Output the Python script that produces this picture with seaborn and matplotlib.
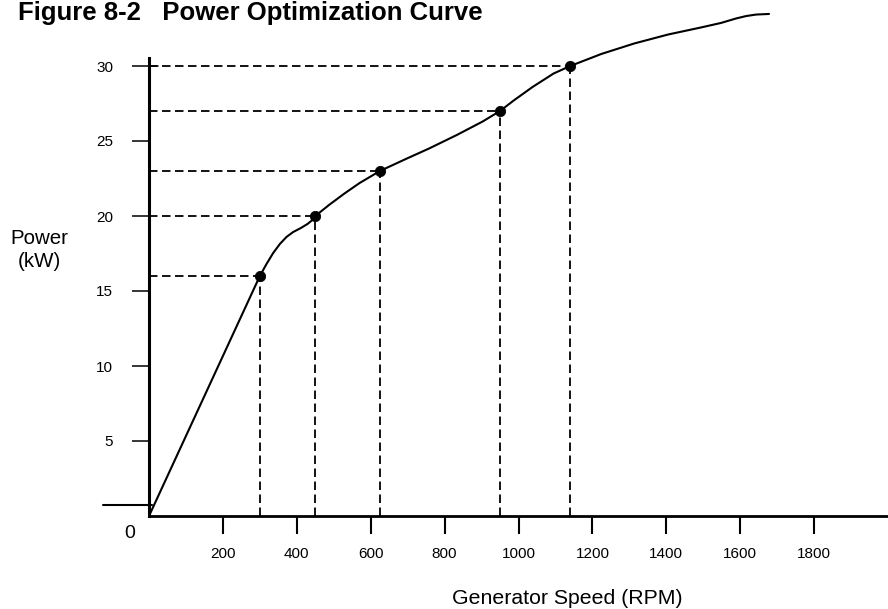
import matplotlib
matplotlib.use("Agg")
import matplotlib.pyplot as plt
import seaborn as sns
import pandas as pd

# Operating points marked on the curve
point_speed = [300, 450, 625, 950, 1140]      # RPM
point_power = [16, 20, 23, 27, 30]            # kW

# Power curve traced along generator speed
curve_speed = [0, 300, 318, 336, 354, 372, 390, 411, 429, 442, 450,
               488, 529, 570, 625, 695, 758, 833, 903, 950, 987, 1038,
               1095, 1140, 1224, 1313, 1405, 1494, 1548, 1589, 1616,
               1643, 1678]
curve_power = [0, 16, 16.8, 17.53, 18.13, 18.6, 18.93, 19.2, 19.47,
               19.73, 20, 20.75, 21.5, 22.2, 23, 23.8, 24.5, 25.4, 26.3,
               27, 27.7, 28.6, 29.5, 30, 30.8, 31.5, 32.1, 32.57, 32.87,
               33.17, 33.33, 33.43, 33.47]

x_ticks = [200, 400, 600, 800, 1000, 1200, 1400, 1600, 1800]
y_ticks = [5, 10, 15, 20, 25, 30]

title = "Figure 8-2   Power Optimization Curve"
x_label = "Generator Speed (RPM)"
y_label = "Power\n(kW)"

sns.set_theme(style="white")
plt.rcParams["font.family"] = ["Liberation Sans", "DejaVu Sans"]

W, H = 888, 609
fig = plt.figure(figsize=(W / 100, H / 100), dpi=100)
fig.patch.set_facecolor("white")
ax = fig.add_axes([149 / W, 1 - 516 / H, 739 / W, 516 / H])
ax.set_facecolor("white")

curve = pd.DataFrame({"speed": curve_speed, "power": curve_power})
points = pd.DataFrame({"speed": point_speed, "power": point_power})

# guide lines from each operating point to both axes
dash = (0, (4.7, 2.5))
ax.vlines(points["speed"], 0, points["power"], colors="black",
          linewidth=1.3, linestyles=dash, zorder=2)
ax.hlines(points["power"], 0, points["speed"], colors="black",
          linewidth=1.3, linestyles=dash, zorder=2)

sns.lineplot(data=curve, x="speed", y="power", color="black",
             linewidth=1.5, estimator=None, ax=ax, zorder=3)
sns.scatterplot(data=points, x="speed", y="power", color="black",
                edgecolor="black", s=55, ax=ax, zorder=4, legend=False)

ax.set_xlim(0, 2000)
ax.set_ylim(0, 516 / 15)

for side in ("top", "right"):
    ax.spines[side].set_visible(False)
ax.spines["left"].set_linewidth(2.2)
ax.spines["bottom"].set_linewidth(2.0)
ax.spines["left"].set_color("black")
ax.spines["bottom"].set_color("black")
ax.spines["left"].set_bounds(0, (516 - 58) / 15)

ax.set_xticks(x_ticks)
ax.set_xticklabels([str(v) for v in x_ticks])
ax.set_yticks(y_ticks)
ax.set_yticklabels([str(v) for v in y_ticks])
ax.tick_params(axis="x", direction="out", length=13, width=1.5,
               pad=9, labelsize=11, colors="black")
ax.tick_params(axis="y", direction="out", length=12.2, width=1.1,
               pad=13.5, labelsize=11, colors="black")
ax.tick_params(left=True, bottom=True)
ax.set_xlabel("")
ax.set_ylabel("")
ax.grid(False)

# short inward stub on the top power tick
ax.plot([0, 9 / 739], [y_ticks[-1], y_ticks[-1]], color="black",
        linewidth=1.1, transform=ax.get_yaxis_transform(), clip_on=False)
# baseline stub left of the origin
ax.plot([-46 / 739, 3 / 739], [11 / 516, 11 / 516], color="black",
        linewidth=1.5, transform=ax.transAxes, clip_on=False)

fig.text(18 / W, 1 - 20 / H, title, fontsize=18.5, fontweight="bold",
         ha="left", va="baseline", color="black")
fig.text(567 / W, 1 - 604 / H, x_label, fontsize=15.3, ha="center",
         va="baseline", color="black")
fig.text(39 / W, 1 - 250 / H, y_label, fontsize=14.8, ha="center",
         va="center", multialignment="center", linespacing=1.3,
         color="black")
fig.text(129.5 / W, 1 - 533.5 / H, "0", fontsize=14, ha="center",
         va="center", color="black")

fig.savefig("out.png", dpi=100, facecolor="white")
